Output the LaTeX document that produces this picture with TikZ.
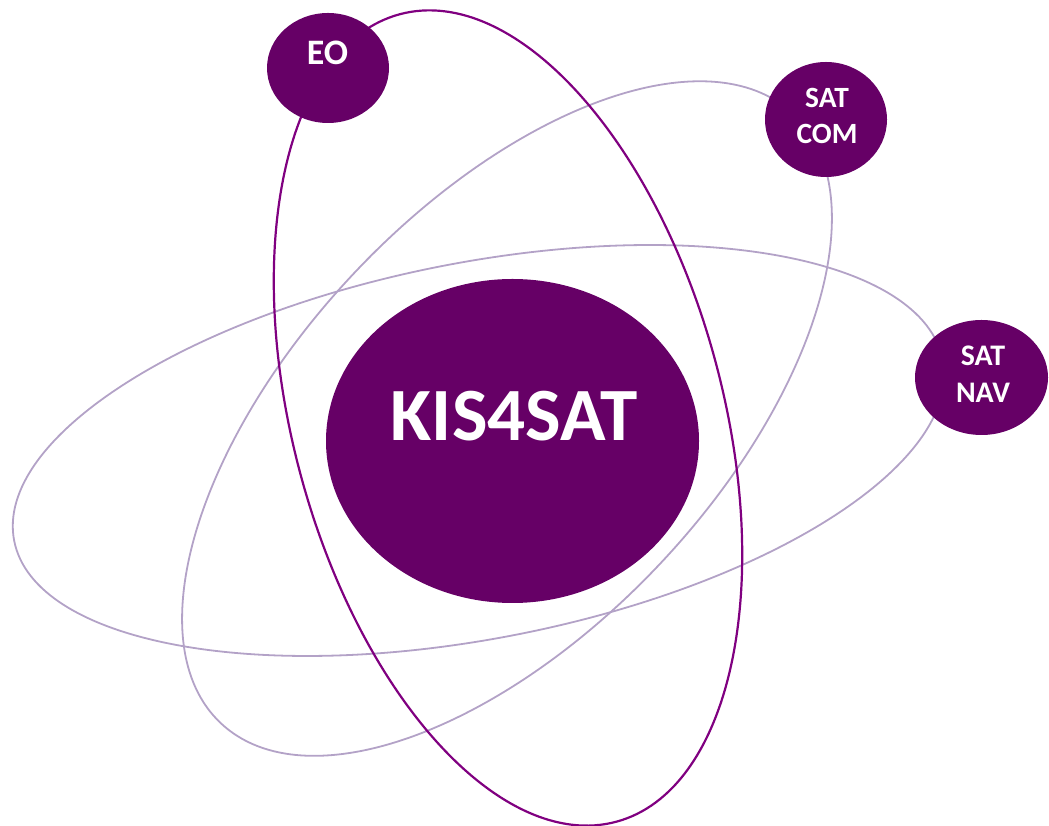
\documentclass[tikz,border=0pt]{standalone}
\usepackage{fontspec}
\setmainfont{Carlito}
\usetikzlibrary{shapes.geometric}
\definecolor{deeppurple}{HTML}{660066}
\definecolor{orbitdark}{HTML}{800080}
\definecolor{orbitlight}{HTML}{B3A2C7}
\tikzset{
  planet/.style={ellipse, fill=deeppurple, draw=none, inner sep=0pt},
  lbl/.style={text=white, font=\bfseries, align=center, inner sep=0pt},
  orbitA/.style={draw=orbitdark, line width=2.2bp},
  orbitB/.style={draw=orbitlight, line width=1.8bp},
}
\begin{document}
\begin{tikzpicture}[x=1bp,y=1bp]
\useasboundingbox (0,0) rectangle (1049,826);
% orbits
\coordinate (o1) at (508,408);
\coordinate (o2) at (507,407.5);
\coordinate (o3) at (478.5,375.5);
\draw[orbitB, rotate around={11:(o3)}] (o3) ellipse [x radius=473bp, y radius=188bp];
\draw[orbitB, rotate around={46.8:(o2)}] (o2) ellipse [x radius=418bp, y radius=211bp];
\draw[orbitA, rotate around={105:(o1)}] (o1) ellipse [x radius=418bp, y radius=215bp];
% central body
\node[planet, minimum width=373bp, minimum height=324bp] (kis) at (512.5,385) {};
\node[lbl, font=\bfseries\fontsize{75.5}{80}\selectfont, anchor=base] (kislbl) at (514,385) {KIS4SAT};
% satellites
\node[planet, minimum width=122bp, minimum height=110bp] (eo) at (328,758) {};
\node[lbl, font=\bfseries\fontsize{36}{40}\selectfont, anchor=base] (eolbl) at (327.5,761) {EO};
\node[planet, minimum width=122bp, minimum height=115bp] (satcom) at (826,706.5) {};
\node[lbl, font=\bfseries\fontsize{29.5}{36}\selectfont] (satcomlbl) at (827,710) {SAT\\COM};
\node[planet, minimum width=133bp, minimum height=115bp] (satnav) at (981.5,448.5) {};
\node[lbl, font=\bfseries\fontsize{30}{37}\selectfont] (satnavlbl) at (983,452) {SAT\\NAV};
\end{tikzpicture}
\end{document}
